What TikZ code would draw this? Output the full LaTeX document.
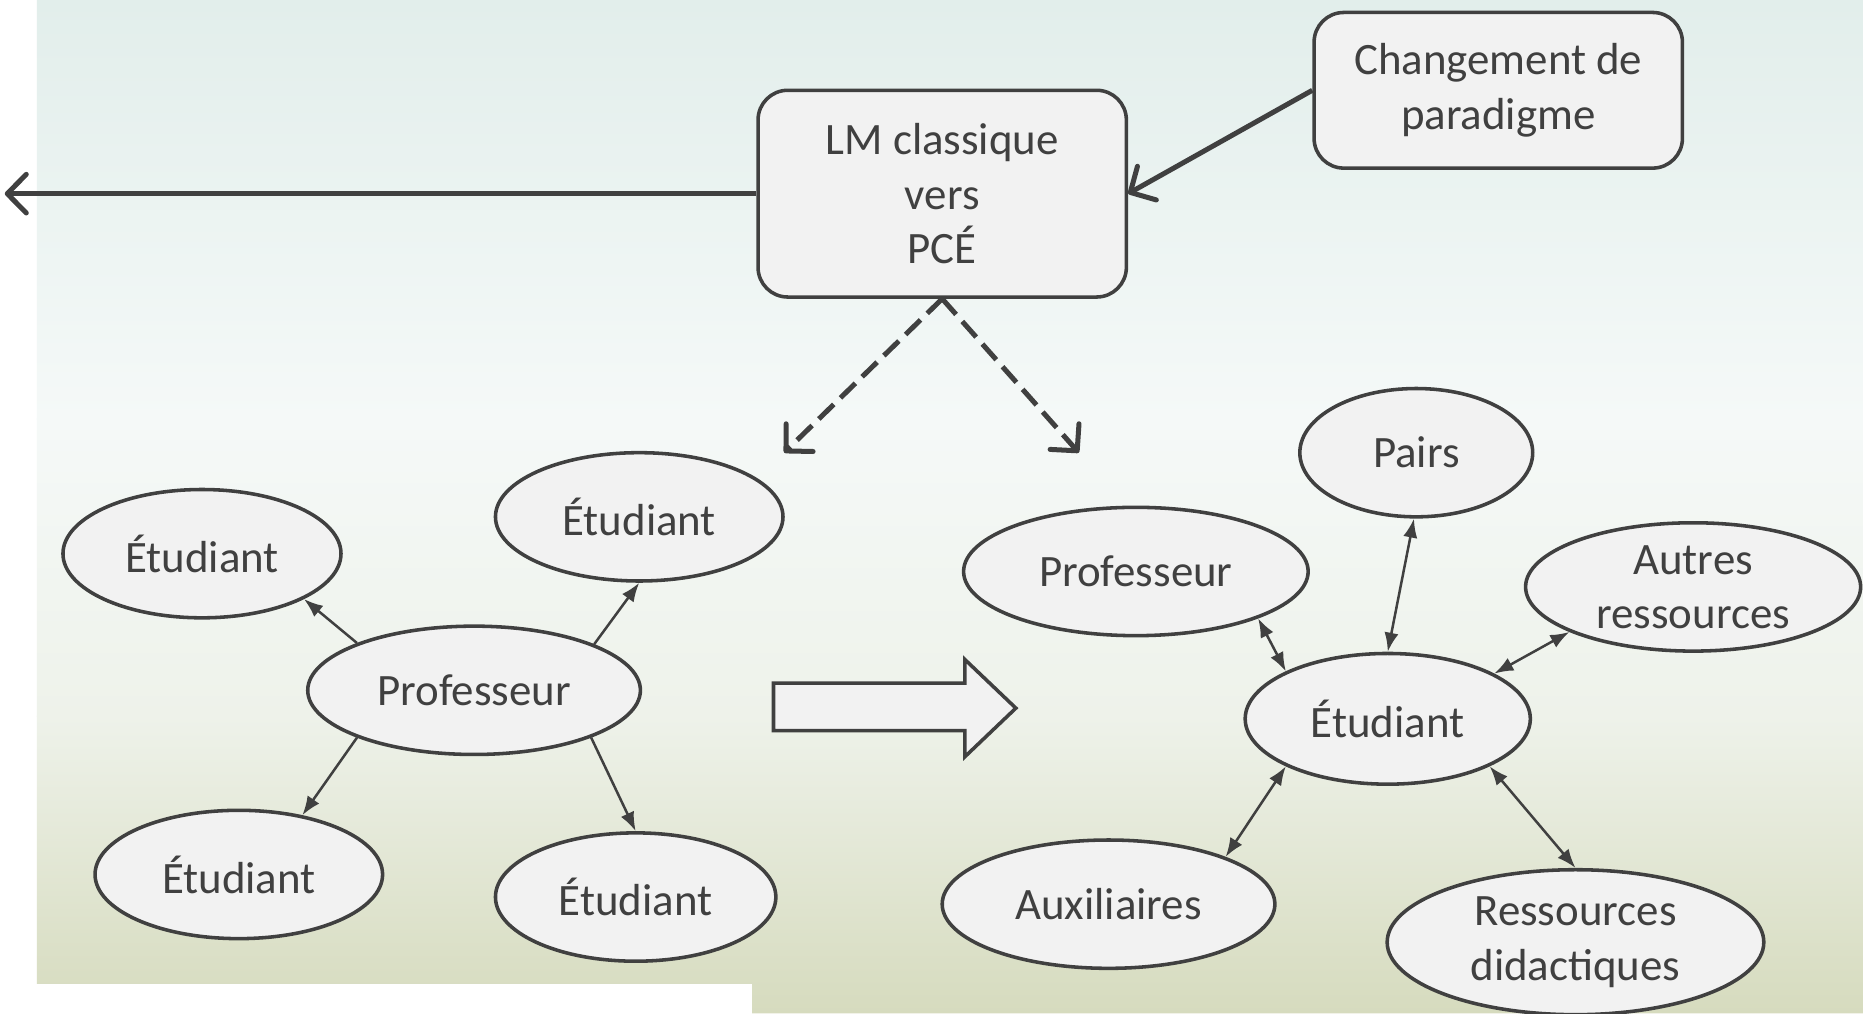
\documentclass[tikz,border=0pt]{standalone}
\usepackage{fontspec}
\setmainfont{Carlito}
\usetikzlibrary{shapes.geometric, arrows.meta}
\definecolor{trait}{RGB}{64,64,64}
\definecolor{remplissage}{RGB}{242,242,242}
\definecolor{fondhaut}{RGB}{226,238,235}
\definecolor{fondmilieu}{RGB}{245,249,248}
\definecolor{fondvert}{RGB}{238,242,234}
\definecolor{fondbas}{RGB}{214,219,190}

\begin{document}
\begin{tikzpicture}[
	boite/.style={rectangle, draw=trait, line width=1.7pt, fill=remplissage, rounded corners=0.5cm, align=center, text=trait, font=\fontsize{21.5}{26}\selectfont, inner sep=0pt},
	bulle/.style={ellipse, draw=trait, line width=1.7pt, fill=remplissage, align=center, text=trait, font=\fontsize{21.5}{26}\selectfont, inner sep=0pt, minimum height=2.16cm},
	grosse/.style={draw=trait, line width=2.4pt, -{Straight Barb[round, length=0.32cm, width=0.65cm]}},
	tirets/.style={grosse, line width=2.4pt, dash pattern=on 10pt off 4.5pt},
	fine/.style={draw=trait, line width=1.2pt, -{Latex[length=0.32cm, width=0.24cm]}},
	double/.style={fine, {Latex[length=0.32cm, width=0.24cm]}-{Latex[length=0.32cm, width=0.24cm]}}
	]
	%%% Fond
	\useasboundingbox (0,0) rectangle (31.36,17.06);
	\fill[white] (0,0) rectangle (31.36,17.06);
	\shade[top color=fondhaut, bottom color=fondmilieu] (0.62,10) rectangle (31.36,17.06);
	\shade[top color=fondmilieu, bottom color=fondvert] (0.62,5) rectangle (31.36,10.01);
	\shade[top color=fondvert, bottom color=fondbas]
		(0.62,0.5) -- (12.66,0.5) -- (12.66,0) -- (31.36,0) -- (31.36,5.01) -- (0.62,5.01) -- cycle;
	
	%%% En haut
	\node[boite, minimum width=6.2cm, minimum height=2.62cm] (chg) at (25.22,15.54) {Changement de\\paradigme};
	\node[boite, minimum width=6.2cm, minimum height=3.48cm] (lm) at (15.86,13.8) {LM classique\\vers\\PCÉ};
	\coordinate (gauche) at (0.08,13.8);
	\coordinate (versg) at (13.2,9.44);
	\coordinate (versd) at (18.16,9.44);
	
	\draw[grosse] (lm.west) -- (gauche);
	\draw[grosse] (chg.west) -- (lm.east);
	\draw[tirets] (lm.south) -- (versg);
	\draw[tirets] (lm.south) -- (versd);
	
	%%% Avant : le professeur au centre
	\node[bulle, minimum width=5.6cm] (prof) at (7.98,5.44) {Professeur};
	\node[bulle, minimum width=4.68cm] (et1) at (3.4,7.74) {Étudiant};
	\node[bulle, minimum width=4.84cm] (et2) at (10.76,8.36) {Étudiant};
	\node[bulle, minimum width=4.84cm] (et3) at (4.02,2.34) {Étudiant};
	\node[bulle, minimum width=4.72cm] (et4) at (10.7,1.96) {Étudiant};
	
	\draw[fine] (prof.158) -- (et1.336);
	\draw[fine] (prof.21) -- (et2.270);
	\draw[fine] (prof.202) -- (et3.43);
	\draw[fine] (prof.338) -- (et4.90);
	
	% Passage
	\draw[draw=trait, line width=1.7pt, fill=remplissage] (13.02,5.56) -- (16.24,5.56) -- (16.24,5.96) -- (17.1,5.14) -- (16.24,4.32) -- (16.24,4.76) -- (13.02,4.76) -- cycle;
	
	%%% Apres : l'etudiant au centre
	\node[bulle, minimum width=4.8cm, minimum height=2.2cm] (etu) at (23.36,4.96) {Étudiant};
	\node[bulle, minimum width=3.92cm] (pairs) at (23.84,9.44) {Pairs};
	\node[bulle, minimum width=5.8cm] (profd) at (19.12,7.44) {Professeur};
	\node[bulle, minimum width=5.64cm] (autres) at (28.5,7.18) {Autres\\ressources};
	\node[bulle, minimum width=5.6cm] (aux) at (18.66,1.84) {Auxiliaires};
	\node[bulle, minimum width=6.34cm, minimum height=2.44cm] (ress) at (26.52,1.2) {Ressources\\didactiques};
	
	\draw[double] (etu.155) -- (profd.339);
	\draw[double] (etu.90) -- (pairs.268);
	\draw[double] (etu.23) -- (autres.200);
	\draw[double] (etu.205) -- (aux.22);
	\draw[double] (etu.335) -- (ress.90);
	
\end{tikzpicture}
\end{document}
